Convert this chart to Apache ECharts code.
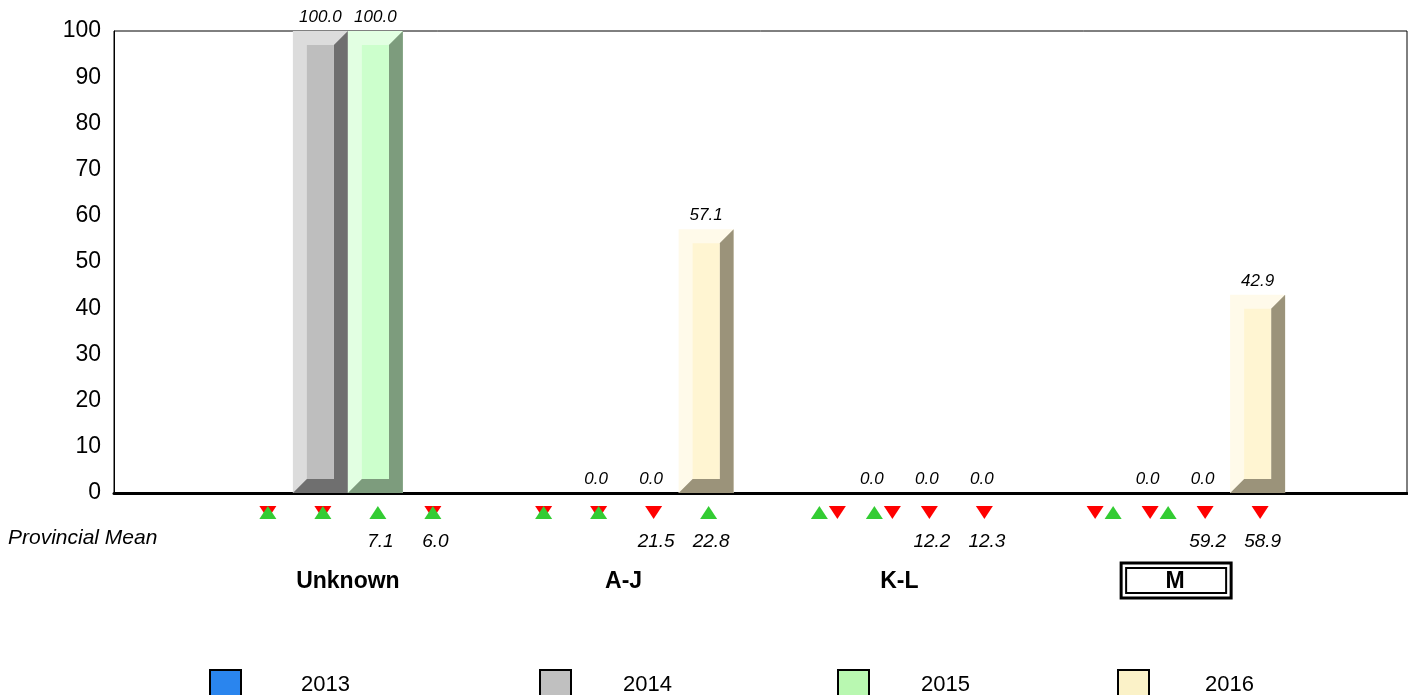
<!DOCTYPE html>
<html>
<head>
<meta charset="utf-8">
<script src="https://cdn.jsdelivr.net/npm/echarts@6/dist/echarts.min.js"></script>
<style>
  html, body { margin: 0; padding: 0; background: #fff; }
  #chart { width: 1408px; height: 695px; }
</style>
</head>
<body>
<div id="chart"></div>
<script>
const categories = ['Unknown', 'A-J', 'K-L', 'M'];
const years = ['2013', '2014', '2015', '2016'];

// bar values per year (null = no bar)
const values2013 = [null, null, null, null];
const values2014 = [100, 0, 0, 0];
const values2015 = [100, 0, 0, 0];
const values2016 = [null, 57.1, 0, 42.9];

// triangles under each bar: green up / red down (1 = shown)
const up2013 = [1, 1, 1, 1];
const down2013 = [1, 1, 1, 1];
const up2014 = [1, 1, 1, 1];
const down2014 = [1, 1, 1, 1];
const up2015 = [1, 0, 0, 0];
const down2015 = [0, 1, 1, 1];
const up2016 = [1, 1, 0, 0];
const down2016 = [1, 0, 1, 1];

// provincial mean row
const mean2013 = [null, null, null, null];
const mean2014 = [null, null, null, null];
const mean2015 = [7.1, 21.5, 12.2, 59.2];
const mean2016 = [6.0, 22.8, 12.3, 58.9];

const yearValues = [values2013, values2014, values2015, values2016];
const yearUp = [up2013, up2014, up2015, up2016];
const yearDown = [down2013, down2014, down2015, down2016];
const yearMean = [mean2013, mean2014, mean2015, mean2016];

// styling
const FONT = 'Liberation Sans, Arial, sans-serif';
const BAR_W = 55;
const BEVEL = 14;
const legendColors = ['#2a85ee', '#c0c0c0', '#b9f8b1', '#fbf2c8'];
const bevelColors = [
  { light: '#8cc0f6', face: '#2a85ee', dark: '#1a4f90' },
  { light: '#dcdcdc', face: '#bebebe', dark: '#6f6f6f' },
  { light: '#e2ffe2', face: '#ccffcc', dark: '#7d9c7d' },
  { light: '#fffaea', face: '#fff5d2', dark: '#9b937a' },
];
// how paired triangles sit per category (0 = overlapped)
const pairStep = [0, 0, 18, 18];
const pairLeft = ['down', 'down', 'up', 'down'];
const legendLeft = [209, 539, 837, 1117];
const legendTextGap = [55, 47, 47, 51];

function triangle(kind, x, yTop) {
  const w = 8.5, h = 13;
  const pts = kind === 'up'
    ? [[x, yTop], [x + w, yTop + h], [x - w, yTop + h]]
    : [[x - w, yTop], [x + w, yTop], [x, yTop + h]];
  return {
    type: 'polygon',
    shape: { points: pts },
    style: { fill: kind === 'up' ? '#33cc33' : '#ff0000' },
  };
}

function makeRender(k) {
  return function (params, api) {
    const cat = api.value(0);
    const val = api.value(1);
    const up = api.value(2);
    const down = api.value(3);
    const mean = api.value(4);
    const base = api.coord([cat, 0]);
    const cx = base[0] + (k - 1.5) * BAR_W;
    const y1 = base[1];
    const children = [];

    if (val != null && !isNaN(val)) {
      const y0 = api.coord([cat, val])[1];
      const x0 = cx - BAR_W / 2;
      const x1 = cx + BAR_W / 2;
      const h = y1 - y0;
      if (h > 0.5) {
        const b = Math.min(BEVEL, h / 2);
        const c = bevelColors[k];
        children.push({
          type: 'rect',
          shape: { x: x0, y: y0, width: BAR_W, height: h },
          style: { fill: c.light },
        });
        children.push({
          type: 'polygon',
          shape: {
            points: [[x1, y0], [x1, y1], [x0, y1], [x0 + b, y1 - b], [x1 - b, y1 - b], [x1 - b, y0 + b]],
          },
          style: { fill: c.dark },
        });
        children.push({
          type: 'rect',
          shape: { x: x0 + b, y: y0 + b, width: BAR_W - 2 * b, height: h - 2 * b },
          style: { fill: c.face },
        });
      }
      children.push({
        type: 'text',
        style: {
          text: val.toFixed(1),
          x: cx,
          y: y0 - 13.5,
          align: 'center',
          verticalAlign: 'middle',
          font: 'italic 17px ' + FONT,
          fill: '#000',
        },
      });
    }

    // indicator triangles
    const mx = cx + 2.5;
    const ty = y1 + 13;
    if (up && down) {
      const left = pairLeft[cat];
      const right = left === 'up' ? 'down' : 'up';
      children.push(triangle(left, mx, ty));
      children.push(triangle(right, mx + pairStep[cat], ty));
    } else if (up) {
      children.push(triangle('up', mx, ty));
    } else if (down) {
      children.push(triangle('down', mx, ty));
    }

    if (mean != null && !isNaN(mean)) {
      children.push({
        type: 'text',
        style: {
          text: mean.toFixed(1),
          x: cx + 5,
          y: y1 + 48.5,
          align: 'center',
          verticalAlign: 'middle',
          font: 'italic 19px ' + FONT,
          fill: '#000',
        },
      });
    }
    return { type: 'group', children };
  };
}

const series = years.map((name, k) => ({
  name,
  type: 'custom',
  xAxisIndex: 1,
  yAxisIndex: 1,
  clip: false,
  itemStyle: { color: legendColors[k], borderColor: '#000', borderWidth: 2 },
  encode: { x: 0, y: 1 },
  renderItem: makeRender(k),
  data: categories.map((_, i) => [i, yearValues[k][i], yearUp[k][i], yearDown[k][i], yearMean[k][i]]),
}));

const chart = echarts.init(document.getElementById('chart'));

const option = {
  animation: false,
  textStyle: { fontFamily: FONT },
  grid: [
    { left: 114, right: 1, top: 31, bottom: 202, show: true, borderColor: '#000', borderWidth: 1 },
    { left: 210, right: 95, top: 31, bottom: 202 },
  ],
  xAxis: [
    {
      gridIndex: 0,
      type: 'category',
      data: [''],
      axisLine: { lineStyle: { color: '#000', width: 3 } },
      axisTick: { show: false },
      axisLabel: { show: false },
    },
    {
      gridIndex: 1,
      type: 'category',
      data: categories,
      axisLine: { show: false },
      axisTick: { show: false },
      axisLabel: { margin: 77, fontSize: 23, fontWeight: 'bold', color: '#000' },
    },
  ],
  yAxis: [
    {
      gridIndex: 0,
      type: 'value',
      min: 0,
      max: 100,
      interval: 10,
      axisLine: { show: true, lineStyle: { color: '#000', width: 1 } },
      axisTick: { show: false },
      splitLine: { show: false },
      axisLabel: { fontSize: 23, color: '#000', margin: 13 },
    },
    {
      gridIndex: 1,
      type: 'value',
      min: 0,
      max: 100,
      show: false,
      splitLine: { show: false },
    },
  ],
  legend: years.map((y, i) => ({
    data: [y],
    left: legendLeft[i],
    top: 669,
    padding: 0,
    itemWidth: 31,
    itemHeight: 30,
    icon: 'rect',
    selectedMode: false,
    itemStyle: { borderColor: '#000', borderWidth: 2 },
    textStyle: { fontSize: 22, color: '#000', padding: [0, 0, 0, legendTextGap[i]] },
  })),
  series,
};

chart.setOption(option);

// provincial mean caption and the boxed "M" category label
const mPos = chart.convertToPixel({ gridIndex: 1 }, [3, 0]);
chart.setOption({
  graphic: [
    {
      id: 'meanCaption',
      type: 'text',
      left: 8,
      top: 528,
      style: { text: 'Provincial Mean', font: 'italic 21px ' + FONT, fill: '#000' },
    },
    {
      id: 'mOuter',
      type: 'rect',
      shape: { x: mPos[0] - 54, y: mPos[1] + 70, width: 110, height: 35 },
      style: { fill: 'none', stroke: '#000', lineWidth: 3 },
      z: 10,
    },
    {
      id: 'mInner',
      type: 'rect',
      shape: { x: mPos[0] - 49, y: mPos[1] + 75, width: 100, height: 25 },
      style: { fill: 'none', stroke: '#000', lineWidth: 2 },
      z: 10,
    },
  ],
});

window.addEventListener('resize', () => chart.resize());
</script>
</body>
</html>
